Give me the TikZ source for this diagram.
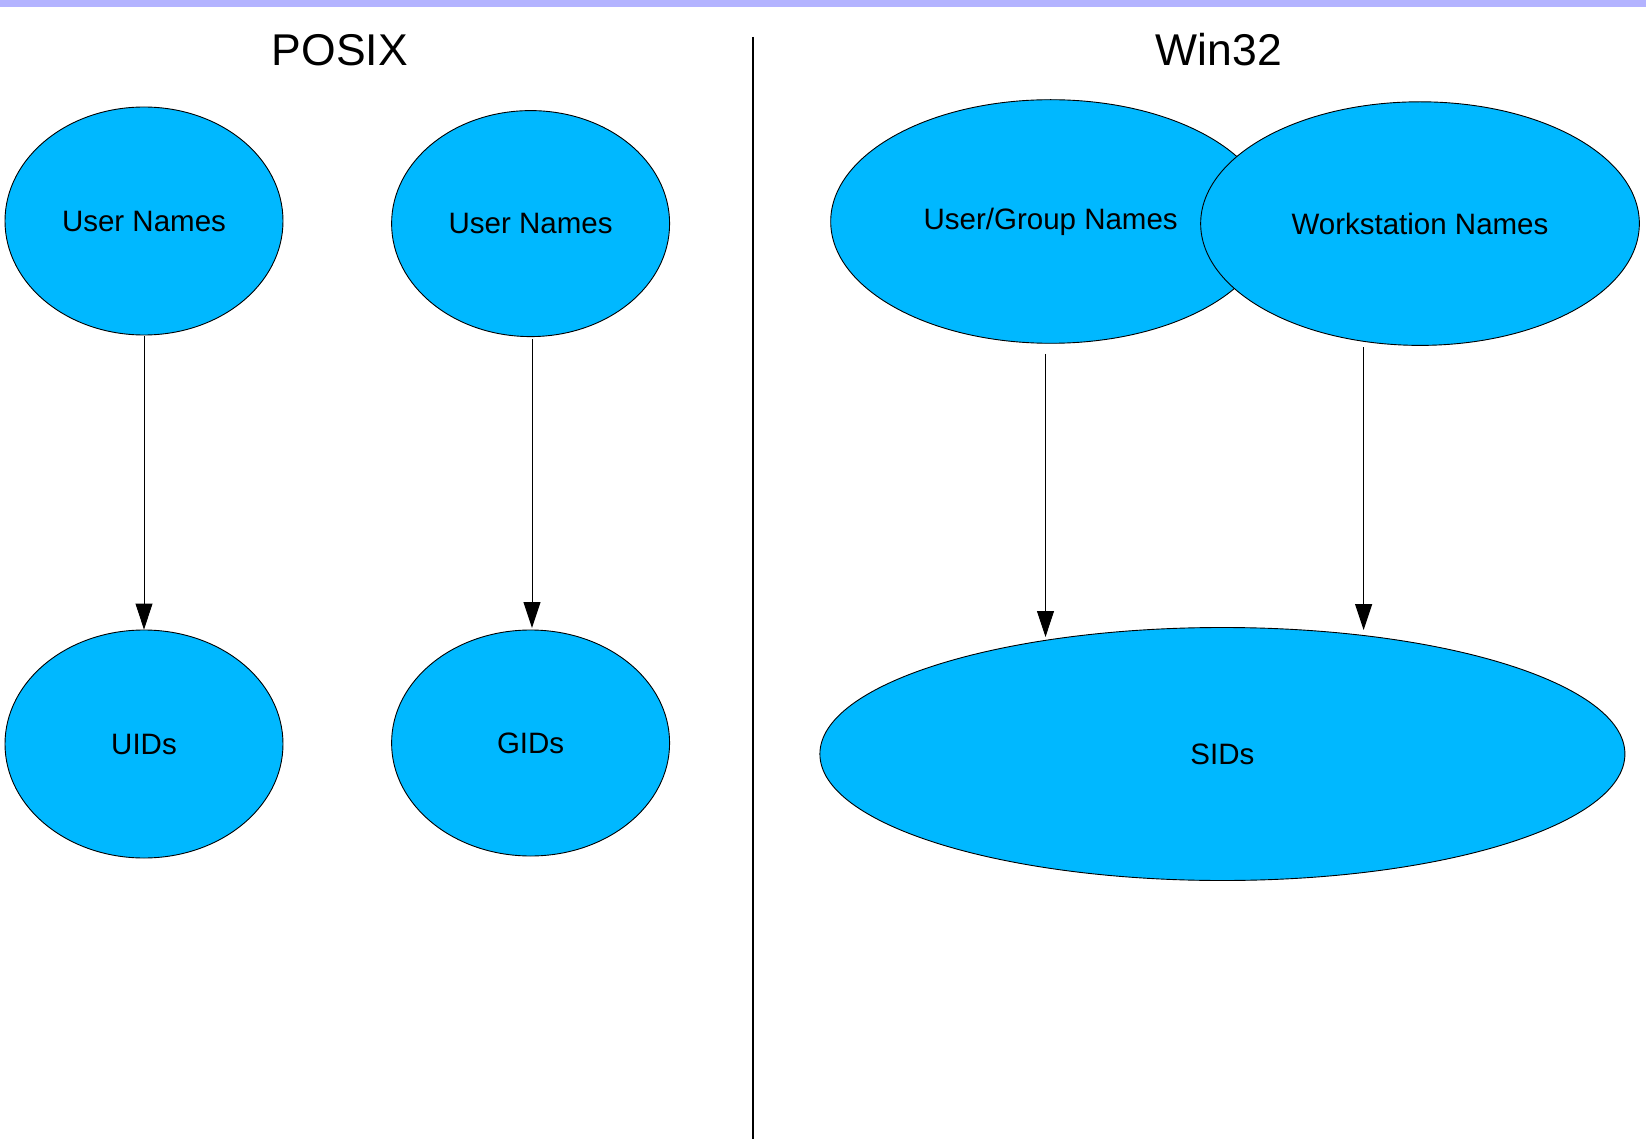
\documentclass[tikz,border=0pt]{standalone}
\usepackage{fontspec}
\setmainfont{Liberation Sans}
\usetikzlibrary{shapes.geometric,arrows.meta}
\definecolor{ovalfill}{RGB}{0,184,255}
\definecolor{topbar}{RGB}{179,179,255}
\tikzset{
  oval/.style={ellipse, draw=black, line width=0.9pt, fill=ovalfill, inner sep=0pt,
    font=\fontsize{29.5}{35}\selectfont},
  arr/.style={draw=black, line width=1pt, -{Triangle[length=26pt,width=17pt]}},
  heading/.style={font=\fontsize{44.5}{52}\selectfont, inner sep=0pt}
}
\begin{document}
\begin{tikzpicture}[x=1pt,y=-1pt]
\useasboundingbox (0,0) rectangle (1646,1139);
\fill[topbar] (0,0) rectangle (1646,7);
\node[heading] (posix) at (340,50) {POSIX};
\node[heading] (win) at (1219,50) {Win32};
\coordinate (divtop) at (753,37);
\coordinate (divbot) at (753,1139);
\draw[line width=1.3pt] (divtop) -- (divbot);
% POSIX
\node[oval, minimum width=278pt, minimum height=228pt] (u1) at (144,221) {User Names};
\node[oval, minimum width=278pt, minimum height=226pt] (u2) at (530.6,223.6) {User Names};
\node[oval, minimum width=278pt, minimum height=228pt] (uid) at (144,744) {UIDs};
\node[oval, minimum width=278pt, minimum height=226pt] (gid) at (530.6,743) {GIDs};
\draw[arr, shorten <=1pt] (u1.south) -- (uid.north);
\coordinate (a2s) at (532,339);
\coordinate (a2e) at (532,628);
\draw[arr] (a2s) -- (a2e);
% Win32
\node[oval, minimum width=440pt, minimum height=243.6pt] (ug) at (1050.7,221.5) {User/Group Names};
\node[oval, minimum width=438.7pt, minimum height=243.6pt] (ws) at (1420,223.6) {Workstation Names};
\node[oval, minimum width=805pt, minimum height=253pt] (sid) at (1222.4,754) {SIDs};
\coordinate (a3s) at (1045.5,353.8);
\coordinate (a3e) at (1045.5,637);
\draw[arr] (a3s) -- (a3e);
\coordinate (a4s) at (1363.6,347.5);
\coordinate (a4e) at (1363.6,630);
\draw[arr] (a4s) -- (a4e);
\end{tikzpicture}
\end{document}
